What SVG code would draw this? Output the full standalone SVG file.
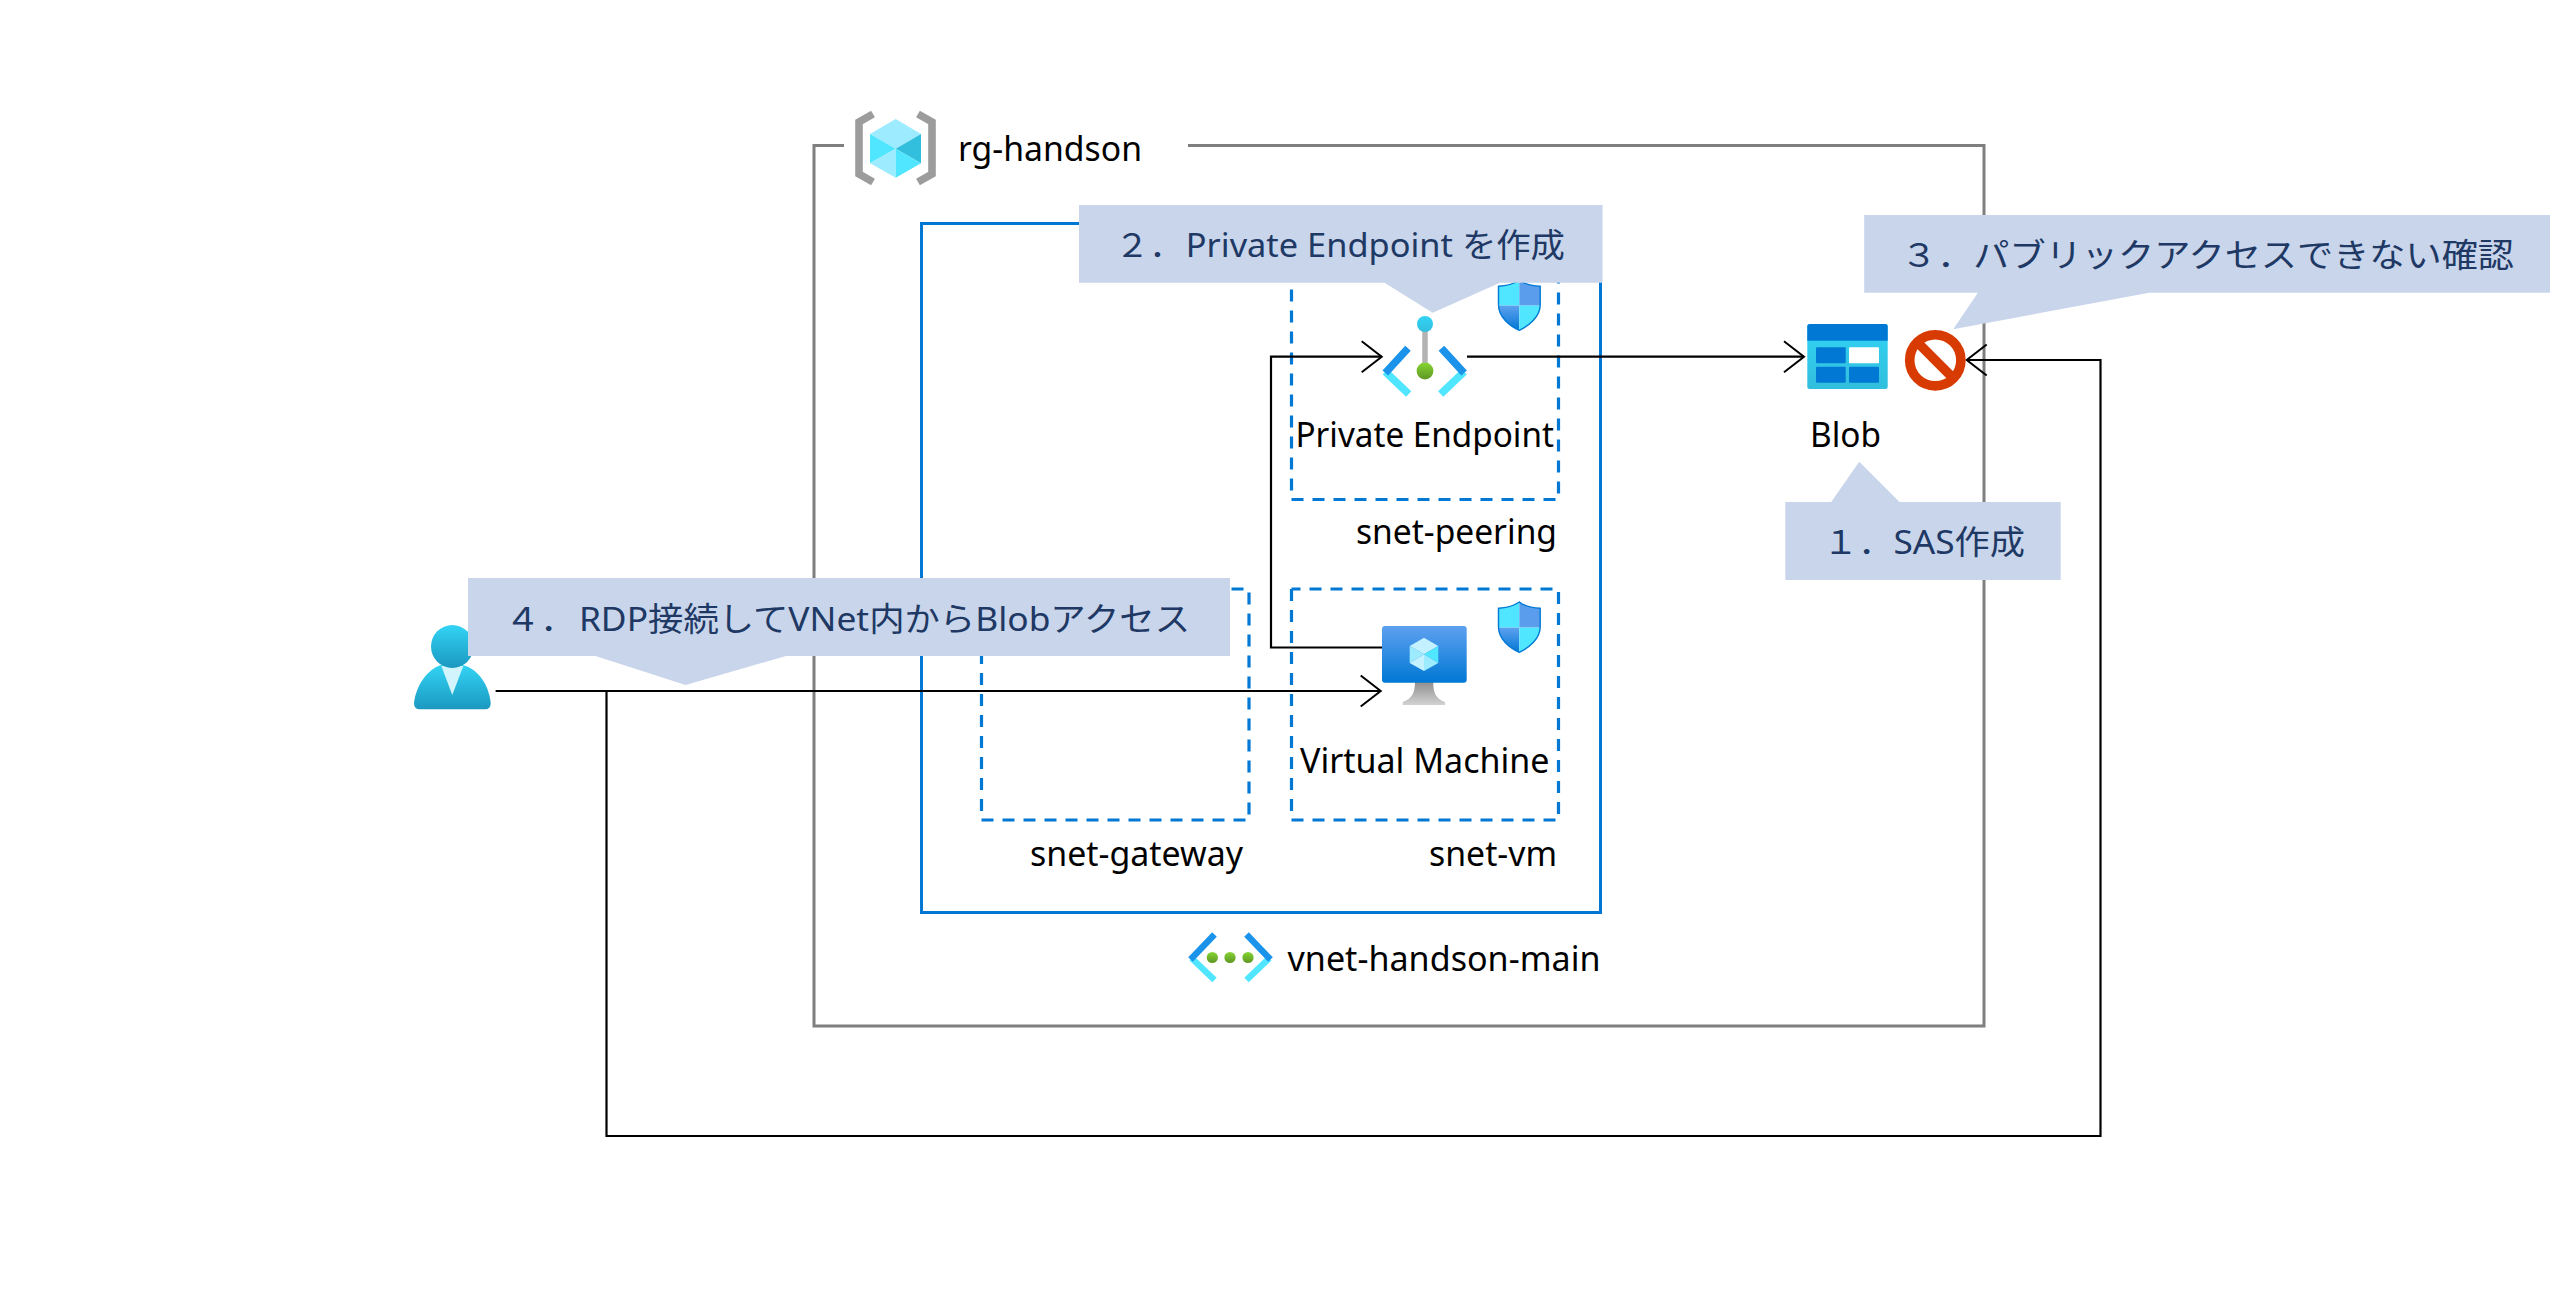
<svg xmlns="http://www.w3.org/2000/svg" xmlns:xlink="http://www.w3.org/1999/xlink" width="2558" height="1312" viewBox="0 0 2558 1312">
<style>
text{font-family:"Noto Sans","Noto Sans CJK JP",sans-serif;font-size:35px;fill:#000}
.co{fill:#c8d5eb;stroke:none}
.cot{font-size:33px;fill:#203864}
.rg{fill:none;stroke:#7f7f7f;stroke-width:3}
.vn{fill:none;stroke:#0078d4;stroke-width:3}
.sn{fill:none;stroke:#0078d4;stroke-width:3.2;stroke-dasharray:12 9}
.cn{fill:none;stroke:#000;stroke-width:2.2}
.chd{fill:none;stroke:#1b93eb;stroke-width:7.6}
.chl{fill:none;stroke:#50e6ff;stroke-width:7.6}
</style>
<defs>
<marker id="arrow" markerUnits="userSpaceOnUse" markerWidth="26" markerHeight="36" refX="22" refY="18" orient="auto" viewBox="0 0 26 36"><path d="M2,2.5 L22,18 L2,33.5" fill="none" stroke="#000" stroke-width="2"/></marker>
<linearGradient id="gBlue" x1="0" y1="0" x2="0" y2="1"><stop offset="0" stop-color="#5ea0ef"/><stop offset="1" stop-color="#0078d4"/></linearGradient>
<linearGradient id="gCyan" x1="0" y1="0" x2="0" y2="1"><stop offset="0" stop-color="#32d4f5"/><stop offset="1" stop-color="#32bedd"/></linearGradient>
<linearGradient id="gUser" x1="0" y1="0" x2="0" y2="1"><stop offset="0" stop-color="#32d4f5"/><stop offset="1" stop-color="#1b98c0"/></linearGradient>
<linearGradient id="gGreen" x1="0" y1="0" x2="0" y2="1"><stop offset="0" stop-color="#86d633"/><stop offset="1" stop-color="#5e9624"/></linearGradient>
<linearGradient id="gStand" x1="0" y1="0" x2="0" y2="1"><stop offset="0" stop-color="#8f8f8f"/><stop offset="1" stop-color="#d2d2d2"/></linearGradient>
<clipPath id="shieldClip"><path d="M20.8,0 C26,4 34,6 41.7,6.3 V25 C41.7,37 30,46 20.8,50.3 C11,46 0,37 0,25 V6.3 C8,6 15,4 20.8,0Z"/></clipPath>
<g id="shield">
<g clip-path="url(#shieldClip)">
<rect x="0" y="0" width="20.8" height="25.6" fill="#50e6ff"/>
<rect x="20.8" y="0" width="21" height="25.6" fill="#5a9dec"/>
<rect x="0" y="25.6" width="20.8" height="25" fill="url(#gBlue)"/>
<rect x="20.8" y="25.6" width="21" height="25" fill="#50e6ff"/>
</g>
<path d="M20.8,0 C26,4 34,6 41.7,6.3 V25 C41.7,37 30,46 20.8,50.3 C11,46 0,37 0,25 V6.3 C8,6 15,4 20.8,0Z" fill="none" stroke="#0078d4" stroke-width="1.4"/>
</g>
</defs>
<rect width="2558" height="1312" fill="#fff"/>

<g id="rg-handson">
<path class="rg" d="M844,145.5 H814 V1026 H1984 V145.5 H1188"/>
<path d="M873,114 L859,122 V174 L873,182" fill="none" stroke="#9c9c9c" stroke-width="7.6"/>
<path d="M918,114 L932,122 V174 L918,182" fill="none" stroke="#9c9c9c" stroke-width="7.6"/>
<polygon points="895.7,119 921,134 895.7,148.7 870,134" fill="#9cebff"/>
<polygon points="870,134 895.7,148.7 870,163.3" fill="#50e6ff"/>
<polygon points="921,134 895.7,148.7 921,163.3" fill="#32bedd"/>
<polygon points="870,163.3 895.7,148.7 895.7,177.7" fill="#9cebff"/>
<polygon points="921,163.3 895.7,148.7 895.7,177.7" fill="#50e6ff"/>
<text x="958" y="161" textLength="184" lengthAdjust="spacingAndGlyphs">rg-handson</text>
</g>

<g id="vnet-handson-main">
<rect class="vn" x="921.5" y="223.5" width="679" height="689"/>
<path class="chl" style="stroke-width:6.4" d="M1214.5,980 L1191.7,958.3 M1246.5,980 L1269.3,958.3"/>
<path class="chd" style="stroke-width:6.4" d="M1214.5,934.5 L1190.5,959.5 M1246.5,934.5 L1270.5,959.5"/>
<circle cx="1212.3" cy="957.5" r="5.6" fill="url(#gGreen)"/>
<circle cx="1230" cy="957.5" r="5.6" fill="url(#gGreen)"/>
<circle cx="1248" cy="957.5" r="5.6" fill="url(#gGreen)"/>
<text x="1287.5" y="971" textLength="313" lengthAdjust="spacingAndGlyphs">vnet-handson-main</text>
</g>

<g id="snet-gateway">
<path class="sn" d="M981.5,589 V820 H1249 V589 H981.5"/>
<text x="1030" y="865.5" textLength="213" lengthAdjust="spacingAndGlyphs">snet-gateway</text>
</g>

<g id="snet-peering">
<path class="sn" d="M1291.5,268.5 V499.5 H1558.5 V268.5 H1291.5"/>
<text x="1356" y="544" textLength="201" lengthAdjust="spacingAndGlyphs">snet-peering</text>
<use xlink:href="#shield" href="#shield" x="1498.5" y="280"/>
</g>

<g id="snet-vm">
<path class="sn" d="M1291.5,589 V820 H1558.5 V589 H1291.5"/>
<text x="1429" y="865.5" textLength="128" lengthAdjust="spacingAndGlyphs">snet-vm</text>
<use xlink:href="#shield" href="#shield" x="1498.5" y="602"/>
</g>

<g id="connectors">
<path class="cn" d="M1385,647.5 H1271 V356.7 H1381.7" marker-end="url(#arrow)"/>
<path class="cn" d="M1467,356.7 H1804" marker-end="url(#arrow)"/>
<path class="cn" d="M495.6,691 H1380.7" marker-end="url(#arrow)"/>
<path class="cn" d="M606.5,691 V1136 H2100.5 V360 H1966.7" marker-end="url(#arrow)"/>
</g>

<g id="private-endpoint">
<line x1="1425" y1="324" x2="1425" y2="371" stroke="#b3b3b3" stroke-width="5.5"/>
<path class="chl" d="M1408.7,394 L1385.3,371.7 M1440.7,394 L1464.1,371.7"/>
<path class="chd" d="M1408,348.3 L1385.3,373 M1441.4,348.3 L1464.1,373"/>
<circle cx="1425" cy="324" r="8" fill="url(#gCyan)"/>
<circle cx="1425" cy="371" r="8.4" fill="url(#gGreen)"/>
<text x="1295.5" y="447" textLength="258.5" lengthAdjust="spacingAndGlyphs">Private Endpoint</text>
</g>

<g id="virtual-machine">
<path d="M1415,682 H1433.3 C1433,692 1436,699 1445,702 V705 H1402.7 V702 C1412,699 1415,692 1415,682Z" fill="url(#gStand)"/>
<rect x="1382" y="626" width="84.7" height="56.7" rx="3" fill="url(#gBlue)"/>
<polygon points="1424,637.7 1438.3,646 1424,654.3 1409.7,646" fill="#c3f1ff"/>
<polygon points="1409.7,646 1424,654.3 1409.7,663" fill="#9cebff"/>
<polygon points="1438.3,646 1424,654.3 1438.3,663" fill="#50e6ff"/>
<polygon points="1409.7,663 1424,654.3 1424,671" fill="#c3f1ff"/>
<polygon points="1438.3,663 1424,654.3 1424,671" fill="#9cebff"/>
<text x="1300" y="773" textLength="249.5" lengthAdjust="spacingAndGlyphs">Virtual Machine</text>
</g>

<g id="blob">
<rect x="1807.3" y="324" width="80.4" height="65" rx="2.5" fill="url(#gCyan)"/>
<path d="M1807.3,340.7 V326.5 Q1807.3,324 1809.8,324 H1885.2 Q1887.7,324 1887.7,326.5 V340.7Z" fill="#0078d4"/>
<rect x="1816" y="347.3" width="29.7" height="16" rx="1" fill="#0078d4"/>
<rect x="1849" y="347.3" width="30" height="16" rx="1" fill="#fff"/>
<rect x="1816" y="366.7" width="29.7" height="16" rx="1" fill="#0078d4"/>
<rect x="1849" y="366.7" width="30" height="16" rx="1" fill="#0078d4"/>
<text x="1810" y="446.5" textLength="71" lengthAdjust="spacingAndGlyphs">Blob</text>
</g>

<g id="blocked">
<circle cx="1935.3" cy="360.3" r="25.6" fill="#fff" stroke="#d83b01" stroke-width="9.6"/>
<line x1="1917.2" y1="342.2" x2="1953.4" y2="378.4" stroke="#d83b01" stroke-width="9.6"/>
</g>

<g id="user">
<path d="M420,709.3 Q414,709.3 414,703 C416,685 428,669 441,665 H463 C478,669 489,685 490.7,703 Q490.7,709.3 485,709.3Z" fill="url(#gUser)"/>
<polygon points="441.3,666 463.3,666 452.3,695" fill="#d2f4fd"/>
<ellipse cx="452.3" cy="646.5" rx="21.3" ry="21.5" fill="url(#gUser)"/>
</g>

<g id="callout-1">
<path class="co" d="M1785.3,502 H1831.2 L1859.2,461.7 L1899.5,502 H2060.7 V580 H1785.3Z"/>
<text class="cot" x="1823" y="554" textLength="202" lengthAdjust="spacingAndGlyphs">１．SAS作成</text>
</g>
<g id="callout-2">
<path class="co" d="M1079,205 H1602.5 V282.7 H1500 L1432.7,312.7 L1384.5,282.7 H1079Z"/>
<text class="cot" x="1115" y="256.7" textLength="450" lengthAdjust="spacingAndGlyphs">２．<tspan dx="2">Private Endpoint を作成</tspan></text>
</g>
<g id="callout-3">
<path class="co" d="M1864.2,215 H2550 V292.7 H2149.2 L1953.2,329.3 L1977.9,292.7 H1864.2Z"/>
<text class="cot" x="1901" y="267" textLength="613" lengthAdjust="spacingAndGlyphs">３．パブリックアクセスできない確認</text>
</g>
<g id="callout-4">
<path class="co" d="M468,578 H1230 V656 H786 L685.6,685 L595.5,656 H468Z"/>
<text class="cot" x="505" y="630.7" textLength="685" lengthAdjust="spacingAndGlyphs">４．<tspan dx="3">RDP接続してVNet内からBlobアクセス</tspan></text>
</g>
</svg>
